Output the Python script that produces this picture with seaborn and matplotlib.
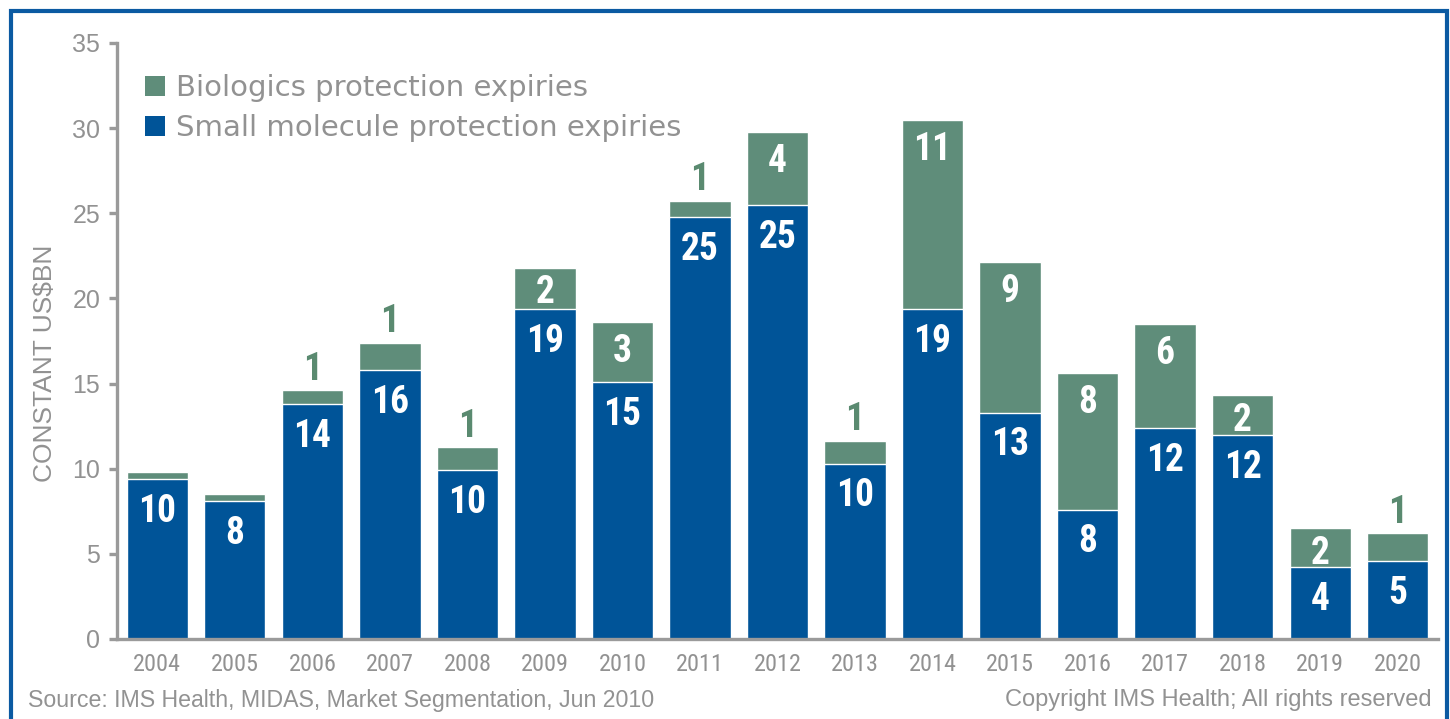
import numpy as np
import pandas as pd
import matplotlib
matplotlib.use("Agg")
import matplotlib.pyplot as plt
from matplotlib import font_manager as fm
from matplotlib.patches import Patch, Rectangle
import seaborn as sns

# ---------------- data ----------------
years = ["2004", "2005", "2006", "2007", "2008", "2009", "2010", "2011", "2012",
         "2013", "2014", "2015", "2016", "2017", "2018", "2019", "2020"]
small_molecule = [9.4, 8.1, 13.8, 15.8, 9.9, 19.4, 15.1, 24.8, 25.5,
                  10.3, 19.4, 13.3, 7.6, 12.4, 12.0, 4.2, 4.6]
biologics = [0.4, 0.4, 0.8, 1.6, 1.35, 2.4, 3.5, 0.95, 4.3,
             1.35, 11.1, 8.85, 8.05, 6.1, 2.3, 2.3, 1.6]
small_labels = ["10", "8", "14", "16", "10", "19", "15", "25", "25",
                "10", "19", "13", "8", "12", "12", "4", "5"]
bio_labels = ["", "", "1", "1", "1", "2", "3", "1", "4",
              "1", "11", "9", "8", "6", "2", "2", "1"]
y_ticks = [0, 5, 10, 15, 20, 25, 30, 35]
legend_labels = ["Biologics protection expiries", "Small molecule protection expiries"]

BLUE = "#005498"
GREEN = "#5f8d7a"
GREEN_TXT = "#5a8a70"
GRAY = "#9a9a9a"
TXT = "#929292"
BORDER = "#0b5aa2"

# ---------------- fonts ----------------
ttf = fm.fontManager.ttflist
names = {f.name for f in ttf}

def pick(cands):
    for c in cands:
        if c in names:
            return c
    return None

narrow = pick(["Liberation Sans Narrow", "Roboto Condensed", "Open Sans Condensed",
               "DejaVu Sans Condensed"])
narrow_stretch = "normal"
if narrow is None:
    if any(f.name == "DejaVu Sans" and f.stretch in ("condensed", "semi-condensed", 75, 87.5)
           for f in ttf):
        narrow = "DejaVu Sans"
        narrow_stretch = "condensed"
have_narrow = narrow is not None
if not have_narrow:
    narrow = "Liberation Sans"

sns.set_theme(style="white")
plt.rcParams["font.family"] = ["Liberation Sans", "DejaVu Sans"]

df = pd.DataFrame({"year": years,
                   "small": small_molecule,
                   "total": np.array(small_molecule) + np.array(biologics)})

fig = plt.figure(figsize=(14.5, 7.19), dpi=100)
ax = fig.add_axes([117 / 1450, 1 - 639 / 719, (1438 - 117) / 1450, (639 - 43) / 719])

sns.barplot(data=df, x="year", y="total", color=GREEN, saturation=1, width=0.79,
            errorbar=None, ax=ax, order=years)
sns.barplot(data=df, x="year", y="small", color=BLUE, saturation=1, width=0.79,
            errorbar=None, ax=ax, order=years)

ax.set_xlim(-0.52, len(years) - 0.48)
ax.set_ylim(0, 35)
ax.set_yticks(y_ticks)
ax.set_yticklabels([str(t) for t in y_ticks])

for s in ["top", "right"]:
    ax.spines[s].set_visible(False)
for s in ["left", "bottom"]:
    ax.spines[s].set_color(GRAY)
    ax.spines[s].set_linewidth(2.4)
ax.tick_params(axis="y", which="major", left=True, length=6, width=2.4, color=GRAY,
               labelsize=18, labelcolor=TXT, pad=6)
ax.tick_params(axis="x", bottom=False, labelcolor=TXT, pad=4)
for lab in ax.get_xticklabels():
    lab.set_fontfamily(narrow)
    lab.set_fontstretch(narrow_stretch)
    lab.set_fontsize(17.5 if have_narrow else 14)
ax.set_xlabel("")
ax.set_ylabel("CONSTANT US$BN", fontsize=19, color=TXT)
ax.yaxis.set_label_coords(-0.0455, 0.463)

# ---------------- value labels ----------------
lab_size = 27 if have_narrow else 20
lab_kw = dict(fontfamily=narrow, fontstretch=narrow_stretch, fontweight="bold",
              fontsize=lab_size, ha="center")
for i, (sm, bi, sl, bl) in enumerate(zip(small_molecule, biologics, small_labels, bio_labels)):
    ax.annotate(sl, (i, sm), xytext=(0, -10), textcoords="offset points",
                va="top", color="white", **lab_kw)
    if bl:
        top = sm + bi
        if bi >= 2:
            off = -8 if bi > 3 else -4.5
            ax.annotate(bl, (i, top), xytext=(0, off), textcoords="offset points",
                        va="top", color="white", **lab_kw)
        else:
            ax.annotate(bl, (i, top), xytext=(0, 2), textcoords="offset points",
                        va="bottom", color=GREEN_TXT, **lab_kw)

# ---------------- legend ----------------
handles = [Patch(facecolor=GREEN, edgecolor="none"), Patch(facecolor=BLUE, edgecolor="none")]
leg = ax.legend(handles, legend_labels, loc="upper left", bbox_to_anchor=(0.021, 0.948),
                frameon=False, fontsize=21, handlelength=0.68, handleheight=0.68,
                handletextpad=0.4, labelspacing=0.42, borderpad=0, borderaxespad=0)
for t in leg.get_texts():
    t.set_color(TXT)
    t.set_fontfamily(["DejaVu Sans"])

# ---------------- footer ----------------
fig.text(28 / 1450, 1 - 700 / 719, "Source: IMS Health, MIDAS, Market Segmentation, Jun 2010",
         fontsize=16.7, color=TXT, ha="left", va="center")
fig.text(1432 / 1450, 1 - 700 / 719, "Copyright IMS Health; All rights reserved",
         fontsize=17, color=TXT, ha="right", va="center")

# ---------------- border ----------------
fig.patches.append(Rectangle((10.5 / 1450, -0.05), (1447 - 10.5) / 1450, 1.05 - 10.5 / 719,
                             transform=fig.transFigure, fill=False, edgecolor=BORDER,
                             linewidth=3, clip_on=False))

fig.savefig("out.png", dpi=100, facecolor="white")
